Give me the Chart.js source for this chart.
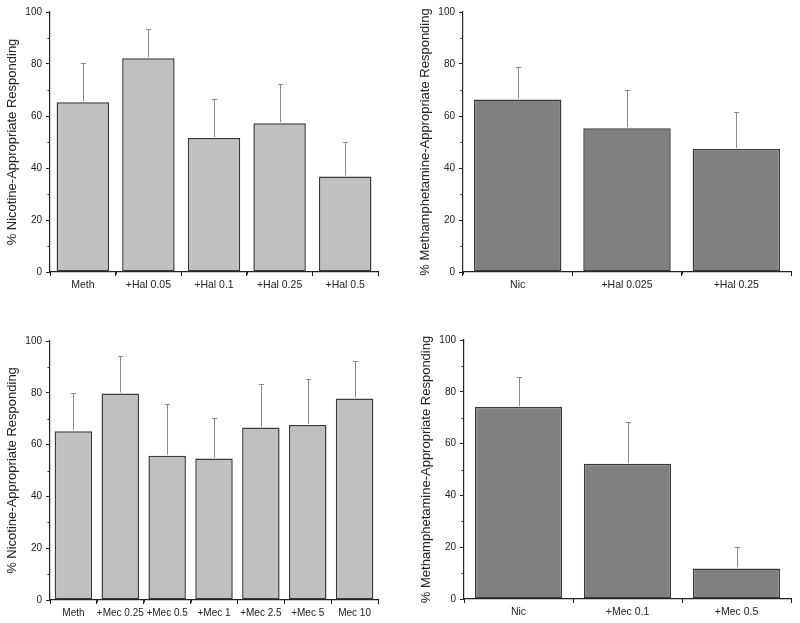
<!DOCTYPE html>
<html>
<head>
<meta charset="utf-8">
<script src="https://cdn.jsdelivr.net/npm/chart.js@4.4.0/dist/chart.umd.min.js"></script>
<style>
  html, body { margin:0; padding:0; background:#fff; }
  #wrap { position:relative; width:800px; height:623px; }
  .panel { position:absolute; }
</style>
</head>
<body>
<div id="wrap">
  <div class="panel" style="left:0;top:0;width:400px;height:310px"><canvas id="c1"></canvas></div>
  <div class="panel" style="left:400px;top:0;width:400px;height:310px"><canvas id="c2"></canvas></div>
  <div class="panel" style="left:0;top:310px;width:400px;height:313px"><canvas id="c3"></canvas></div>
  <div class="panel" style="left:400px;top:310px;width:400px;height:313px"><canvas id="c4"></canvas></div>
</div>
<script>
// ---- data ----
const p1Labels = ['Meth', '+Hal 0.05', '+Hal 0.1', '+Hal 0.25', '+Hal 0.5'];
const p1Values = [65.3, 82.2, 51.5, 57.2, 36.7];
const p1Errors = [15.0, 11.4, 14.9, 15.0, 13.4];

const p2Labels = ['Nic', '+Hal 0.025', '+Hal 0.25'];
const p2Values = [66.3, 55.3, 47.3];
const p2Errors = [12.7, 14.6, 14.1];

const p3Labels = ['Meth', '+Mec 0.25', '+Mec 0.5', '+Mec 1', '+Mec 2.5', '+Mec 5', 'Mec 10'];
const p3Values = [65.2, 79.7, 55.7, 54.6, 66.6, 67.6, 77.8];
const p3Errors = [14.9, 14.7, 19.8, 15.5, 16.8, 17.6, 14.6];

const p4Labels = ['Nic', '+Mec 0.1', '+Mec 0.5'];
const p4Values = [74.2, 52.2, 11.8];
const p4Errors = [11.5, 16.0, 8.2];

const yTickStep = 20;
const yMinorStep = 10;
const yMin = 0, yMax = 100;
const nicTitle = '% Nicotine-Appropriate Responding';
const methTitle = '% Methamphetamine-Appropriate Responding';

// ---- plugins ----
const FONT = "'Liberation Sans', Arial, Helvetica, sans-serif";
const INK = '#222';

const errorBars = {
  id: 'errorBars',
  afterDatasetsDraw(chart, args, opts) {
    const ctx = chart.ctx, y = chart.scales.y;
    const meta = chart.getDatasetMeta(0);
    const vals = chart.data.datasets[0].data;
    ctx.save();
    ctx.strokeStyle = opts.color || '#888';
    ctx.lineWidth = 1;
    meta.data.forEach((el, i) => {
      const e = opts.errors[i];
      const x = Math.round(el.x) + 0.5;
      const y0 = y.getPixelForValue(vals[i]) - 1;
      const y1 = Math.round(y.getPixelForValue(vals[i] + e)) + 0.5;
      ctx.beginPath();
      ctx.moveTo(x, y0);
      ctx.lineTo(x, y1);
      ctx.moveTo(x - 2.5, y1);
      ctx.lineTo(x + 2.5, y1);
      ctx.stroke();
    });
    ctx.restore();
  }
};

const minorTicks = {
  id: 'minorTicks',
  afterDraw(chart) {
    const ctx = chart.ctx, x = chart.scales.x, y = chart.scales.y;
    ctx.save();
    ctx.strokeStyle = INK;
    ctx.lineWidth = 1;
    ctx.beginPath();
    for (let v = yMin + yMinorStep; v < yMax; v += yTickStep) {
      const py = Math.round(y.getPixelForValue(v)) + 0.5;
      ctx.moveTo(y.right, py);
      ctx.lineTo(y.right - 2.5, py);
    }
    const n = chart.data.labels.length;
    for (let i = 0; i <= n; i++) {
      const px = Math.round(x.getPixelForValue(i - 0.5)) + 0.5;
      ctx.moveTo(px, x.top);
      ctx.lineTo(px, x.top + 2.5);
    }
    ctx.stroke();
    ctx.restore();
  }
};

function makeChart(id, labels, values, errors, fill, title, pad, yWidth, xHeight, xFont) {
  return new Chart(document.getElementById(id), {
    type: 'bar',
    data: {
      labels: labels,
      datasets: [{
        data: values,
        backgroundColor: fill,
        borderColor: '#3a3a3a',
        borderWidth: 1.5,
        borderSkipped: false,
        categoryPercentage: 1.0,
        barPercentage: 0.8
      }]
    },
    options: {
      responsive: true,
      maintainAspectRatio: false,
      animation: false,
      events: [],
      layout: { padding: pad },
      plugins: {
        legend: { display: false },
        tooltip: { enabled: false },
        errorBars: { errors: errors, color: '#8a8a8a' }
      },
      scales: {
        x: {
          offset: true,
          grid: { display: true, drawOnChartArea: false, drawTicks: true, tickLength: 4, color: INK, tickColor: INK },
          border: { display: true, color: INK, width: 1.2 },
          ticks: { color: INK, font: { family: FONT, size: xFont }, padding: 3, maxRotation: 0, autoSkip: false },
          afterFit(s) { s.height = xHeight; }
        },
        y: {
          min: yMin, max: yMax,
          grid: { display: true, drawOnChartArea: false, drawTicks: true, tickLength: 4, color: INK, tickColor: INK },
          border: { display: true, color: INK, width: 1.2 },
          ticks: { stepSize: yTickStep, color: INK, font: { family: FONT, size: 10 }, padding: 4 },
          title: { display: true, text: title, color: INK, font: { family: FONT, size: 13 }, padding: { top: 4, bottom: 2 } },
          afterFit(s) { s.width = yWidth; }
        }
      }
    },
    plugins: [errorBars, minorTicks]
  });
}

makeChart('c1', p1Labels, p1Values, p1Errors, '#c0c0c0', nicTitle, { left: 1, top: 12, right: 22, bottom: 0 }, 49, 38, 10.5);
makeChart('c2', p2Labels, p2Values, p2Errors, '#808080', methTitle, { left: 14, top: 12, right: 9, bottom: 0 }, 49, 38, 10.5);
makeChart('c3', p3Labels, p3Values, p3Errors, '#c0c0c0', nicTitle, { left: 1, top: 31, right: 22, bottom: 0 }, 49, 23, 10);
makeChart('c4', p4Labels, p4Values, p4Errors, '#808080', methTitle, { left: 15, top: 30, right: 9, bottom: 0 }, 49, 24, 10.5);
</script>
</body>
</html>
